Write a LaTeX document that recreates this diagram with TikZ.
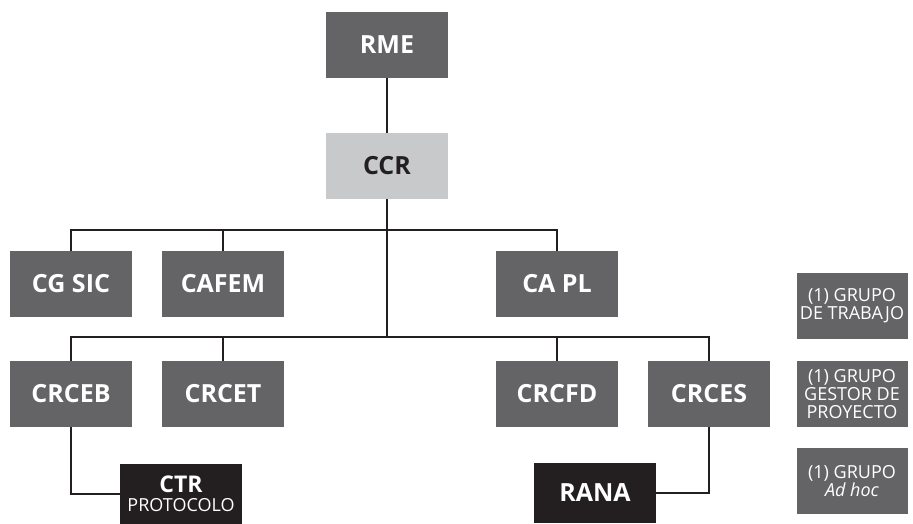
\documentclass[tikz,border=0pt]{standalone}
\usepackage{fontspec}
\setmainfont{Open Sans}
\usepackage{tikz}
\usetikzlibrary{calc}

\definecolor{boxgray}{HTML}{646466}
\definecolor{ccrgray}{HTML}{C8C9CA}
\definecolor{boxblack}{HTML}{231F20}

\begin{document}
\begin{tikzpicture}[x=1pt, y=-1pt,
    unit/.style={fill=boxgray, text=white, minimum width=122pt, minimum height=66pt,
      inner sep=0pt, font=\fontsize{25}{28}\selectfont\bfseries},
    topunit/.style={unit, fill=ccrgray, text=boxblack},
    darkunit/.style={unit, fill=boxblack, minimum height=60pt, align=center},
    legendbox/.style={fill=boxgray, text=white, minimum width=111pt, minimum height=66pt,
      inner sep=0pt, align=center, font=\fontsize{18}{18}\selectfont},
    link/.style={draw=boxblack, line width=1.8pt}]
        \useasboundingbox (0,0) rectangle (913,523);
        % levels of the tree
        \coordinate (bus1) at (0,230);
        \coordinate (bus2) at (0,337);
        \node[unit] (rme) at (387,45) {RME};
        \node[topunit] (ccr) at (387,166) {CCR};
        \node[unit] (cgsic) at (71,284) {CG SIC};
        \node[unit] (cafem) at (223,284) {CAFEM};
        \node[unit] (capl) at (557,284) {CA PL};
        \node[unit] (crceb) at (71,394) {CRCEB};
        \node[unit] (crcet) at (223,394) {CRCET};
        \node[unit] (crcfd) at (557,394) {CRCFD};
        \node[unit] (crces) at (709,394) {CRCES};
        \node[darkunit, font=\fontsize{23}{19}\selectfont\bfseries] (ctr) at (181,494)
          {CTR\\{\fontsize{18}{19}\selectfont\mdseries PROTOCOLO}};
        \node[darkunit] (rana) at (595,493) {RANA};
        % legend
        \node[legendbox] (trabajo) at (852,306) {(1) GRUPO\\DE TRABAJO};
        \node[legendbox] (gestor) at (852,394) {(1) GRUPO\\GESTOR DE\\PROYECTO};
        \node[legendbox] (adhoc) at (852,481) {(1) GRUPO\\\textit{Ad hoc}};
        % connectors
        \draw[link] (rme) -- (ccr);
        \draw[link] (cgsic.north) |- (capl.north |- bus1) -- (capl.north);
        \draw[link] (cafem.north) -- (cafem.north |- bus1);
        \draw[link] (ccr.south) -- (ccr.south |- bus2);
        \draw[link] (crceb.north) |- (crces.north |- bus2) -- (crces.north);
        \draw[link] (crcet.north) -- (crcet.north |- bus2);
        \draw[link] (crcfd.north) -- (crcfd.north |- bus2);
        \draw[link] (crceb.south) |- (ctr.west);
        \draw[link] (crces.south) |- (rana.east);
\end{tikzpicture}
\end{document}
